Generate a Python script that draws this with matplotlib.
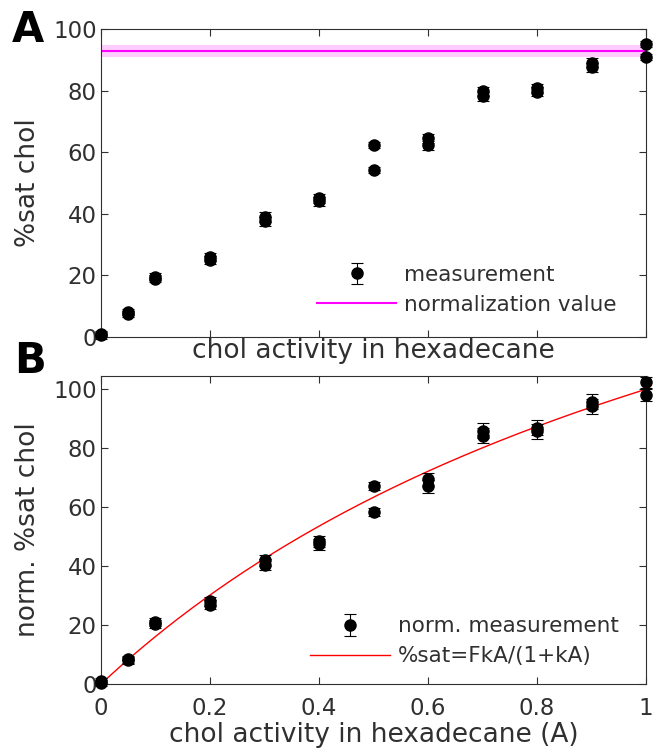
import numpy as np
import matplotlib
matplotlib.use("Agg")
import matplotlib.pyplot as plt

# chol activity (A) in hexadecane, two replicates per level
activity = [0, 0, 0.05, 0.05, 0.1, 0.1, 0.2, 0.2, 0.3, 0.3, 0.4, 0.4,
            0.5, 0.5, 0.6, 0.6, 0.7, 0.7, 0.8, 0.8, 0.9, 0.9, 1.0, 1.0]

# raw %sat chol
sat_raw = [0.5, 0.9, 7.4, 8.0, 19.0, 19.6, 25.0, 26.0, 37.6, 39.0, 44.0, 45.0,
           54.2, 62.3, 62.3, 64.5, 78.2, 79.8, 79.6, 80.8, 87.5, 89.0, 91.0, 95.0]
sat_raw_err = [1.0, 1.0, 1.0, 1.0, 1.2, 1.2, 1.4, 1.4, 1.5, 1.5, 1.5, 1.5,
               1.0, 1.0, 1.5, 1.5, 1.5, 1.5, 1.5, 1.5, 1.5, 1.5, 1.0, 1.0]

# normalisation value and its uncertainty
norm_value = 92.9
norm_err = 2.0

# normalised %sat chol
sat_norm = [0.5, 0.9, 8.0, 8.4, 20.4, 21.1, 26.9, 28.0, 40.5, 42.0, 47.4, 48.4,
            58.3, 67.1, 67.1, 69.4, 84.2, 85.9, 85.7, 87.0, 94.2, 95.8, 98.0, 102.3]
sat_norm_err = [1.0, 1.0, 1.2, 1.2, 1.4, 1.4, 1.6, 1.6, 1.8, 1.8, 1.8, 1.8,
                1.4, 1.4, 2.2, 2.2, 2.5, 2.5, 2.5, 2.5, 2.5, 2.5, 2.0, 2.0]

# fit parameters for %sat = F k A / (1 + k A)
F_fit = 237.0
k_fit = 0.73

gris = "#303030"
plt.rcParams["font.family"] = "DejaVu Sans"
plt.rcParams["font.size"] = 16.5
plt.rcParams["text.color"] = gris
plt.rcParams["axes.labelcolor"] = gris
plt.rcParams["xtick.color"] = gris
plt.rcParams["ytick.color"] = gris

fig = plt.figure(figsize=(6.54, 7.55), dpi=100)
axA = fig.add_axes([0.1544, 0.5536, 0.8336, 0.408])
axB = fig.add_axes([0.1544, 0.094, 0.8336, 0.408])

for ax in (axA, axB):
    for s in ax.spines.values():
        s.set_color(gris)
        s.set_linewidth(0.8)
    ax.tick_params(direction="in", top=True, right=True, length=5, width=0.8,
                   labelsize=16.5, pad=3)
    ax.tick_params(axis="x", pad=9)
    ax.set_xlim(0, 1)
    ax.set_xticks(np.arange(0, 1.01, 0.2))

# panel A: raw data with normalisation value
axA.axhspan(norm_value - norm_err, norm_value + norm_err, color=(1, 0, 1),
            alpha=0.2, lw=0)
axA.axhline(norm_value, color=(1, 0, 1), lw=1.5, label="normalization value")
axA.errorbar(activity, sat_raw, yerr=sat_raw_err, fmt="o", color="black",
             ms=8, capsize=4, elinewidth=0.8, capthick=0.8, label="measurement",
             clip_on=False, zorder=3)
axA.set_ylim(0, 100)
axA.set_yticks(range(0, 101, 20))
axA.set_xticklabels([])
axA.set_ylabel("%sat chol", fontsize=19, labelpad=9)
axA.set_xlabel("chol activity in hexadecane", fontsize=19, labelpad=-8)
hA, lA = axA.get_legend_handles_labels()
axA.legend(hA[::-1], lA[::-1], frameon=False, loc="lower right",
           bbox_to_anchor=(0.962, 0.045), fontsize=15.5, handlelength=3.7,
           handletextpad=0.37, labelspacing=0.45, borderaxespad=0)

# panel B: normalised data with saturation fit
A_fit = np.linspace(0, 1, 200)
sat_fit = F_fit * k_fit * A_fit / (1 + k_fit * A_fit)
axB.plot(A_fit, sat_fit, color="red", lw=1.0, label="%sat=FkA/(1+kA)")
axB.errorbar(activity, sat_norm, yerr=sat_norm_err, fmt="o", color="black",
             ms=8, capsize=4, elinewidth=0.8, capthick=0.8,
             label="norm. measurement", clip_on=False, zorder=3)
axB.set_ylim(0, 104.5)
axB.set_yticks(range(0, 101, 20))
axB.set_ylabel("norm. %sat chol", fontsize=19, labelpad=9)
axB.set_xlabel("chol activity in hexadecane (A)", fontsize=19, labelpad=2)
axB.set_xticklabels(["0", "0.2", "0.4", "0.6", "0.8", "1"])
hB, lB = axB.get_legend_handles_labels()
axB.legend(hB[::-1], lB[::-1], frameon=False, loc="lower right",
           bbox_to_anchor=(0.965, 0.03), fontsize=15.5, handlelength=3.7,
           handletextpad=0.37, labelspacing=0.45, borderaxespad=0)

fig.text(0.018, 0.96, "A", fontsize=30, fontweight="bold", color="black",
         va="center", ha="left")
fig.text(0.022, 0.522, "B", fontsize=30, fontweight="bold", color="black",
         va="center", ha="left")

fig.savefig("out.png", dpi=100)
